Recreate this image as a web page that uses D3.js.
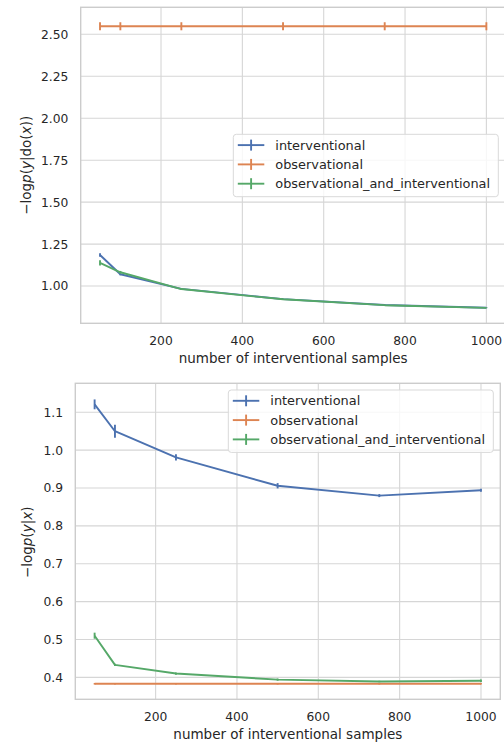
<!DOCTYPE html>
<html>
<head>
<meta charset="utf-8">
<script src="https://cdn.jsdelivr.net/npm/d3@7"></script>
<style>
body { margin: 0; background: #fff; }
svg { display: block; font-family: "DejaVu Sans", sans-serif; }
</style>
</head>
<body>
<script>
'use strict'

// x values shared by both panels
const samples = [50, 100, 250, 500, 750, 1000]
const seriesNames = ['interventional', 'observational', 'observational_and_interventional']
const xTicks = [200, 400, 600, 800, 1000]

// top panel: -log p(y|do(x))
const doInterventional = [1.185, 1.070, 0.983, 0.922, 0.887, 0.871]
const doInterventionalErr = [0.010, 0.006, 0.004, 0.003, 0.003, 0.002]
const doObservational = [2.548, 2.548, 2.548, 2.548, 2.548, 2.548]
const doObservationalErr = [0.024, 0.024, 0.024, 0.024, 0.024, 0.024]
const doBoth = [1.138, 1.082, 0.982, 0.921, 0.886, 0.870]
const doBothErr = [0.015, 0.008, 0.004, 0.003, 0.002, 0.002]
const doTicks = [1.0, 1.25, 1.5, 1.75, 2.0, 2.25, 2.5]

// bottom panel: -log p(y|x)
const condInterventional = [1.121, 1.050, 0.981, 0.906, 0.880, 0.894]
const condInterventionalErr = [0.013, 0.017, 0.008, 0.007, 0.004, 0.004]
const condObservational = [0.383, 0.383, 0.383, 0.383, 0.383, 0.383]
const condObservationalErr = [0.002, 0.002, 0.002, 0.002, 0.002, 0.002]
const condBoth = [0.510, 0.433, 0.410, 0.394, 0.389, 0.391]
const condBothErr = [0.008, 0.003, 0.003, 0.003, 0.002, 0.003]
const condTicks = [0.4, 0.5, 0.6, 0.7, 0.8, 0.9, 1.0, 1.1]

const colors = ['#4c72b0', '#dd8452', '#55a868']
const textColor = '#262626'
const gridColor = '#d6d6d6'

const W = 504, H = 744
const plotW = 425, plotH = 316

const svg = d3.select('body').append('svg')
    .attr('width', W)
    .attr('height', H)

function drawPanel(opts) {
    const g = svg.append('g').attr('transform', `translate(${opts.left},${opts.top})`)

    const x = d3.scaleLinear().domain([2.5, 1047.5]).range([0, plotW])
    const y = d3.scaleLinear().domain(opts.yDomain).range([plotH, 0])

    // grid
    g.selectAll('.vgrid').data(xTicks).enter().append('line')
        .attr('x1', d => x(d)).attr('x2', d => x(d))
        .attr('y1', 0).attr('y2', plotH)
        .attr('stroke', gridColor).attr('stroke-width', 1.1)
    g.selectAll('.hgrid').data(opts.yTicks).enter().append('line')
        .attr('x1', 0).attr('x2', plotW)
        .attr('y1', d => y(d)).attr('y2', d => y(d))
        .attr('stroke', gridColor).attr('stroke-width', 1.1)

    // spines
    g.append('rect')
        .attr('x', 0).attr('y', 0).attr('width', plotW).attr('height', plotH)
        .attr('fill', 'none').attr('stroke', '#cccccc').attr('stroke-width', 1.4)

    // tick labels
    g.selectAll('.xl').data(xTicks).enter().append('text')
        .attr('x', d => x(d)).attr('y', plotH + 17.5)
        .attr('dy', '0.36em')
        .attr('text-anchor', 'middle')
        .attr('font-size', 12.3).attr('fill', textColor)
        .text(d => d)
    g.selectAll('.yl').data(opts.yTicks).enter().append('text')
        .attr('x', -12.3).attr('y', d => y(d))
        .attr('dy', '0.36em')
        .attr('text-anchor', 'end')
        .attr('font-size', 12.3).attr('fill', textColor)
        .text(d => d3.format(opts.yFormat)(d))

    // axis labels
    g.append('text')
        .attr('x', plotW / 2).attr('y', plotH + 35)
        .attr('dy', '0.36em')
        .attr('text-anchor', 'middle')
        .attr('font-size', 13.5).attr('fill', textColor)
        .text('number of interventional samples')

    const yl = g.append('text')
        .attr('transform', `translate(${opts.yLabelX},${plotH / 2 + opts.yLabelShift}) rotate(-90)`)
        .attr('text-anchor', 'middle')
        .attr('dy', '0.3em')
        .attr('font-size', 13.5).attr('fill', textColor)
    opts.yLabel.forEach(part => {
        yl.append('tspan')
            .attr('font-style', part.i ? 'italic' : 'normal')
            .text(part.t)
    })

    // series with error bars
    const line = d3.line().x(d => x(d.x)).y(d => y(d.y))
    opts.series.forEach((s, k) => {
        const pts = samples.map((v, i) => ({ x: v, y: s.values[i], e: s.errs[i] }))
        const sg = g.append('g')
        sg.append('path')
            .datum(pts)
            .attr('d', line)
            .attr('fill', 'none')
            .attr('stroke', colors[k])
            .attr('stroke-width', 1.9)
            .attr('stroke-linejoin', 'round')
        sg.selectAll('.err').data(pts).enter().append('line')
            .attr('x1', d => x(d.x)).attr('x2', d => x(d.x))
            .attr('y1', d => y(d.y - d.e)).attr('y2', d => y(d.y + d.e))
            .attr('stroke', colors[k])
            .attr('stroke-width', 1.9)
    })

    // legend
    const lg = g.append('g').attr('transform', `translate(${opts.legendX},${opts.legendY})`)
    lg.append('rect')
        .attr('x', 0).attr('y', 0).attr('width', 265).attr('height', 62.4)
        .attr('rx', 3).attr('ry', 3)
        .attr('fill', 'rgba(255,255,255,0.8)')
        .attr('stroke', '#d9d9d9').attr('stroke-width', 1)
    seriesNames.forEach((name, k) => {
        const cy = 10.8 + k * 19.3
        lg.append('line')
            .attr('x1', 4.5).attr('x2', 31)
            .attr('y1', cy).attr('y2', cy)
            .attr('stroke', colors[k]).attr('stroke-width', 1.9)
        lg.append('line')
            .attr('x1', 17.8).attr('x2', 17.8)
            .attr('y1', cy - 5.5).attr('y2', cy + 5.5)
            .attr('stroke', colors[k]).attr('stroke-width', 1.9)
        lg.append('text')
            .attr('x', 42).attr('y', cy)
            .attr('dy', '0.36em')
            .attr('font-size', 12.9).attr('fill', textColor)
            .text(name)
    })
}

drawPanel({
    left: 80.7, top: 7.3,
    yDomain: [0.778, 2.661],
    yTicks: doTicks,
    yFormat: '.2f',
    yLabelX: -54, yLabelShift: 0,
    yLabel: [{ t: '\u2212log', i: false }, { t: 'p', i: true }, { t: '(', i: false }, { t: 'y', i: true },
             { t: '|do(', i: false }, { t: 'x', i: true }, { t: '))', i: false }],
    series: [
        { values: doInterventional, errs: doInterventionalErr },
        { values: doObservational, errs: doObservationalErr },
        { values: doBoth, errs: doBothErr }
    ],
    legendX: 152.6, legendY: 127
})

drawPanel({
    left: 75.3, top: 383.3,
    yDomain: [0.342, 1.1766],
    yTicks: condTicks,
    yFormat: '.1f',
    yLabelX: -47.5, yLabelShift: 1,
    yLabel: [{ t: '\u2212log', i: false }, { t: 'p', i: true }, { t: '(', i: false }, { t: 'y', i: true },
             { t: '|', i: false }, { t: 'x', i: true }, { t: ')', i: false }],
    series: [
        { values: condInterventional, errs: condInterventionalErr },
        { values: condObservational, errs: condObservationalErr },
        { values: condBoth, errs: condBothErr }
    ],
    legendX: 153, legendY: 6.7
})
</script>
</body>
</html>
